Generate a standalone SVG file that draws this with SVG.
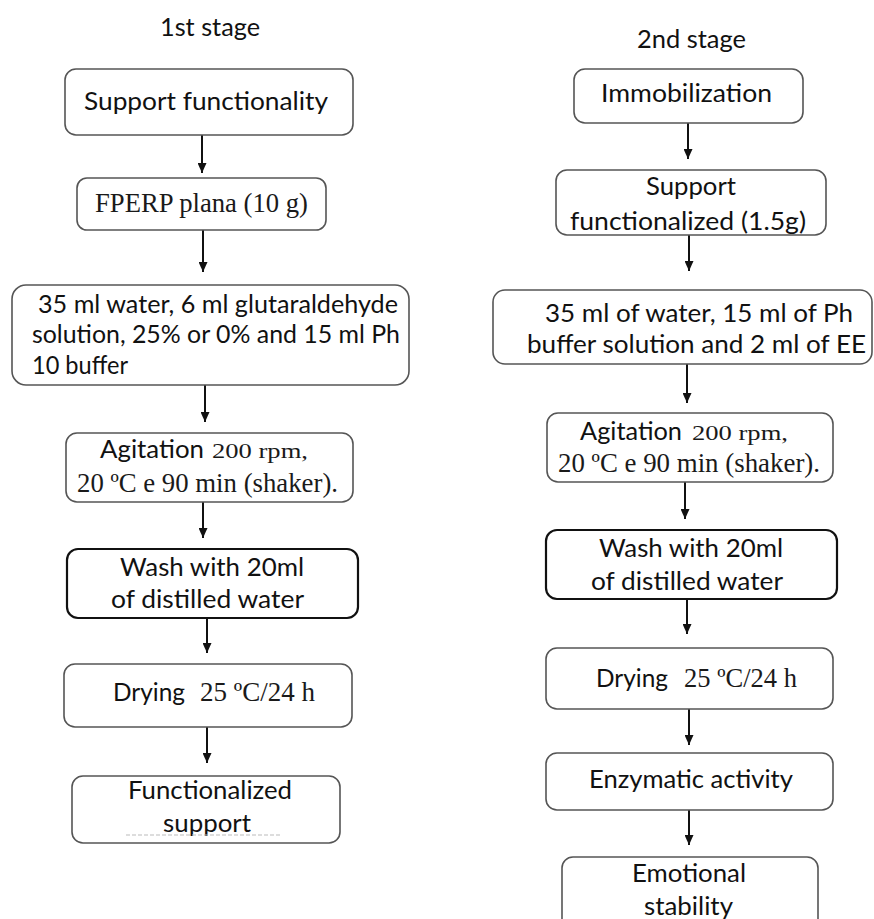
<svg xmlns="http://www.w3.org/2000/svg" width="874" height="919" viewBox="0 0 874 919">
<style>
.bg{fill:#ffffff}
.box{fill:#ffffff;stroke:#555555;stroke-width:1.6}
.boxd{fill:#ffffff;stroke:#111111;stroke-width:2.2}
.s{font-family:Lato,"Open Sans","Liberation Sans",sans-serif;font-size:25px;fill:#111111}
.r{font-family:"Liberation Serif","Times New Roman",serif;font-size:27px;fill:#1a1a1a}
.rs{font-family:"Liberation Serif","Times New Roman",serif;font-size:22px;fill:#1a1a1a}
.conn line{stroke:#111111;stroke-width:2;marker-end:url(#ah)}
</style>
<defs>
<marker id="ah" markerUnits="userSpaceOnUse" markerWidth="9" markerHeight="10" refX="4.5" refY="10" orient="0" viewBox="0 0 9 10">
<path d="M0,0 L9,0 L4.5,10 z" fill="#111111"/>
</marker>
</defs>
<rect class="bg" x="0" y="0" width="874" height="919"/>

<text class="s" x="160" y="36" textLength="100" lengthAdjust="spacingAndGlyphs">1st stage</text>
<text class="s" x="637" y="48" textLength="109" lengthAdjust="spacingAndGlyphs">2nd stage</text>

<g id="connectors" class="conn">
<line x1="202" y1="135" x2="202" y2="173"/>
<line x1="203" y1="230" x2="203" y2="272"/>
<line x1="205" y1="385" x2="205" y2="422"/>
<line x1="203" y1="502" x2="203" y2="538"/>
<line x1="207" y1="618" x2="207" y2="653"/>
<line x1="207" y1="727" x2="207" y2="763"/>
<line x1="688" y1="123" x2="688" y2="159"/>
<line x1="689" y1="235" x2="689" y2="271"/>
<line x1="687" y1="364" x2="687" y2="403"/>
<line x1="685" y1="482" x2="685" y2="519"/>
<line x1="687" y1="599" x2="687" y2="634"/>
<line x1="689" y1="709" x2="689" y2="745"/>
<line x1="689" y1="810" x2="689" y2="845"/>
</g>

<g id="L1">
<rect class="box" x="65" y="69" width="288" height="66" rx="11"/>
<text class="s" x="84" y="110" textLength="244" lengthAdjust="spacingAndGlyphs">Support functionality</text>
</g>
<g id="L2">
<rect class="box" x="77" y="178" width="249" height="52" rx="10"/>
<text class="r" x="95" y="212" textLength="213" lengthAdjust="spacingAndGlyphs">FPERP plana (10 g)</text>
</g>
<g id="L3">
<rect class="box" x="12" y="285" width="397" height="100" rx="14"/>
<text class="s" x="38" y="313" textLength="360" lengthAdjust="spacingAndGlyphs">35 ml water, 6 ml glutaraldehyde</text>
<text class="s" x="32" y="343" textLength="368" lengthAdjust="spacingAndGlyphs">solution, 25% or 0% and 15 ml Ph</text>
<text class="s" x="32" y="374" textLength="96" lengthAdjust="spacingAndGlyphs">10 buffer</text>
</g>
<g id="L4">
<rect class="box" x="66" y="433" width="287" height="69" rx="11"/>
<text class="s" x="100" y="458" textLength="104" lengthAdjust="spacingAndGlyphs">Agitation</text>
<text class="rs" x="212" y="458" textLength="96" lengthAdjust="spacingAndGlyphs">200 rpm,</text>
<text class="r" x="77" y="492" textLength="261" lengthAdjust="spacingAndGlyphs">20 ºC e 90 min (shaker).</text>
</g>
<g id="L5">
<rect class="boxd" x="67" y="549" width="291" height="69" rx="11"/>
<text class="s" x="120" y="576" textLength="184" lengthAdjust="spacingAndGlyphs">Wash with 20ml</text>
<text class="s" x="111" y="608" textLength="193" lengthAdjust="spacingAndGlyphs">of distilled water</text>
</g>
<g id="L6">
<rect class="box" x="64" y="664" width="288" height="63" rx="11"/>
<text class="s" x="113" y="701" textLength="72" lengthAdjust="spacingAndGlyphs">Drying</text>
<text class="r" x="200" y="701" textLength="115" lengthAdjust="spacingAndGlyphs">25 ºC/24 h</text>
</g>
<g id="L7">
<rect class="box" x="72" y="776" width="268" height="67" rx="11"/>
<text class="s" x="128" y="799" textLength="164" lengthAdjust="spacingAndGlyphs">Functionalized</text>
<text class="s" x="163" y="832" textLength="88" lengthAdjust="spacingAndGlyphs">support</text>
<line x1="126" y1="835" x2="281" y2="835" stroke="#bbbbbb" stroke-width="1" stroke-dasharray="4,2"/>
</g>

<g id="R1">
<rect class="box" x="574" y="69" width="229" height="54" rx="11"/>
<text class="s" x="601" y="102" textLength="171" lengthAdjust="spacingAndGlyphs">Immobilization</text>
</g>
<g id="R2">
<rect class="box" x="556" y="170" width="270" height="65" rx="11"/>
<text class="s" x="646" y="195" textLength="90" lengthAdjust="spacingAndGlyphs">Support</text>
<text class="s" x="570" y="230" textLength="236" lengthAdjust="spacingAndGlyphs">functionalized (1.5g)</text>
</g>
<g id="R3">
<rect class="box" x="493" y="290" width="379" height="74" rx="12"/>
<text class="s" x="545" y="322" textLength="308" lengthAdjust="spacingAndGlyphs">35 ml of water, 15 ml of Ph</text>
<text class="s" x="527" y="353" textLength="339" lengthAdjust="spacingAndGlyphs">buffer solution and 2 ml of EE</text>
</g>
<g id="R4">
<rect class="box" x="547" y="413" width="286" height="69" rx="11"/>
<text class="s" x="580" y="440" textLength="102" lengthAdjust="spacingAndGlyphs">Agitation</text>
<text class="rs" x="692" y="440" textLength="96" lengthAdjust="spacingAndGlyphs">200 rpm,</text>
<text class="r" x="558" y="472" textLength="262" lengthAdjust="spacingAndGlyphs">20 ºC e 90 min (shaker).</text>
</g>
<g id="R5">
<rect class="boxd" x="546" y="530" width="291" height="69" rx="11"/>
<text class="s" x="599" y="557" textLength="184" lengthAdjust="spacingAndGlyphs">Wash with 20ml</text>
<text class="s" x="591" y="590" textLength="192" lengthAdjust="spacingAndGlyphs">of distilled water</text>
</g>
<g id="R6">
<rect class="box" x="546" y="648" width="287" height="61" rx="11"/>
<text class="s" x="596" y="687" textLength="72" lengthAdjust="spacingAndGlyphs">Drying</text>
<text class="r" x="684" y="687" textLength="113" lengthAdjust="spacingAndGlyphs">25 ºC/24 h</text>
</g>
<g id="R7">
<rect class="box" x="546" y="753" width="287" height="57" rx="11"/>
<text class="s" x="589" y="788" textLength="204" lengthAdjust="spacingAndGlyphs">Enzymatic activity</text>
</g>
<g id="R8">
<rect class="box" x="562" y="857" width="256" height="80" rx="11"/>
<text class="s" x="632" y="882" textLength="114" lengthAdjust="spacingAndGlyphs">Emotional</text>
<text class="s" x="644" y="915" textLength="89" lengthAdjust="spacingAndGlyphs">stability</text>
</g>
</svg>
